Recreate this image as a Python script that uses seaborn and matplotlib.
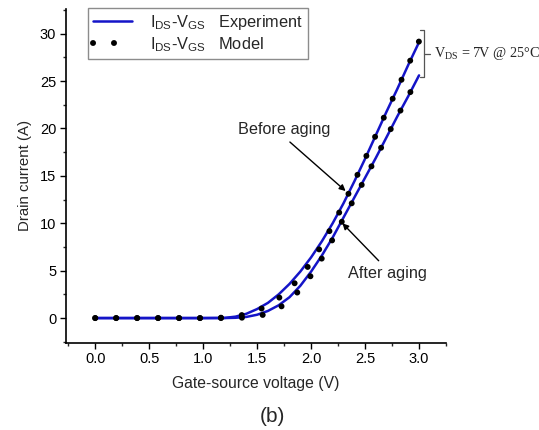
import numpy as np
import pandas as pd
import matplotlib
matplotlib.use("Agg")
import matplotlib.pyplot as plt
from matplotlib.ticker import MultipleLocator
import seaborn as sns

# ---- data ----
vgs = [0.0, 0.2, 0.4, 0.6, 0.8, 1.0, 1.2, 1.3, 1.4, 1.5, 1.6, 1.7, 1.8, 1.9, 2.0,
       2.1, 2.2, 2.3, 2.4, 2.5, 2.6, 2.7, 2.8, 2.9, 3.0]
exp_before = [0, 0, 0, 0, 0, 0, 0.02, 0.15, 0.45, 0.95, 1.6, 2.5, 3.6, 4.9, 6.4,
              8.1, 10.0, 12.1, 14.4, 16.8, 19.3, 21.8, 24.2, 26.7, 29.1]
mod_before = [0, 0, 0, 0, 0, 0, 0.05, 0.2, 0.4, 0.8, 1.3, 2.1, 3.1, 4.3, 5.9,
              7.7, 9.8, 12.0, 14.4, 16.8, 19.3, 21.8, 24.2, 26.7, 29.2]
exp_after = [0, 0, 0, 0, 0, 0, 0, 0.03, 0.12, 0.35, 0.75, 1.35, 2.2, 3.4, 4.9,
             6.6, 8.5, 10.6, 12.7, 14.8, 16.9, 19.1, 21.3, 23.4, 25.6]
mod_after = [0, 0, 0, 0, 0, 0, 0, 0.02, 0.05, 0.2, 0.45, 1.0, 1.9, 3.0, 4.5,
             6.3, 8.3, 10.5, 12.6, 14.7, 16.9, 19.1, 21.3, 23.4, 25.6]

legend_labels = [r"I$_\mathregular{DS}$-V$_\mathregular{GS}$   Experiment",
                 r"I$_\mathregular{DS}$-V$_\mathregular{GS}$   Model"]

sns.set_style("ticks")
plt.rcParams["font.family"] = ["Liberation Sans", "DejaVu Sans"]
plt.rcParams["mathtext.default"] = "regular"

fig = plt.figure(figsize=(5.39, 4.30), dpi=100)
ax = fig.add_axes([0.1225, 0.203, 0.705, 0.776])

blue = "#1414C8"
df = pd.DataFrame({"V": vgs, "eb": exp_before, "mb": mod_before,
                   "ea": exp_after, "ma": mod_after})

sns.lineplot(data=df, x="V", y="eb", ax=ax, color=blue, lw=1.8, label=legend_labels[0])
sns.lineplot(data=df, x="V", y="ea", ax=ax, color=blue, lw=1.8, label="_nolegend_")
dot = (0, (0.01, 3.5))
sns.lineplot(data=df, x="V", y="mb", ax=ax, color="black", lw=4.3,
             label=legend_labels[1])
sns.lineplot(data=df, x="V", y="ma", ax=ax, color="black", lw=4.3, label="_nolegend_")
for ln in ax.lines[2:4]:
    ln.set_linestyle(dot)
    ln.set_dash_capstyle("round")

ax.set_xlim(-0.27, 3.25)
ax.set_ylim(-2.6, 32.6)
ax.xaxis.set_major_locator(MultipleLocator(0.5))
ax.xaxis.set_minor_locator(MultipleLocator(0.25))
ax.yaxis.set_major_locator(MultipleLocator(5))
ax.yaxis.set_minor_locator(MultipleLocator(2.5))
ax.xaxis.set_major_formatter(matplotlib.ticker.FormatStrFormatter("%.1f"))
ax.tick_params(which="major", direction="out", length=4, width=1, labelsize=10.5,
               pad=3, colors="black")
ax.tick_params(which="minor", direction="out", length=2.5, width=1)
sns.despine(ax=ax)
for s in ["left", "bottom"]:
    ax.spines[s].set_linewidth(1.2)
    ax.spines[s].set_color("black")

ax.set_xlabel("Gate-source voltage (V)", fontsize=11.3, labelpad=7)
ax.set_ylabel("Drain current (A)", fontsize=10.8, labelpad=6)

leg = ax.legend(loc="upper left", bbox_to_anchor=(0.058, 1.003), borderaxespad=0,
                fontsize=11.8, handlelength=2.4, handletextpad=1.1, labelspacing=0.2,
                fancybox=False, frameon=True, borderpad=0.3)
leg.get_frame().set_edgecolor("#707070")
leg.get_frame().set_linewidth(1.0)
for h in leg.get_lines():
    if h.get_color() == "black":
        h.set_linestyle(dot)
        h.set_dash_capstyle("round")

ax.annotate("Before aging", xy=(2.32, 13.4), xytext=(1.75, 19.9),
            fontsize=11.7, ha="center", va="center",
            arrowprops=dict(arrowstyle="-|>", color="black", lw=1, shrinkA=2, shrinkB=0,
                            mutation_scale=9, relpos=(0.5, 0.0)))
ax.annotate("After aging", xy=(2.29, 10.0), xytext=(2.71, 4.7),
            fontsize=11.7, ha="center", va="center",
            arrowprops=dict(arrowstyle="-|>", color="black", lw=1, shrinkA=2, shrinkB=0,
                            mutation_scale=9, relpos=(0.45, 1.0)))

# bracket
bx = [3.01, 3.045, 3.045, 3.01]
by = [30.4, 30.4, 25.4, 25.4]
ax.plot(bx, by, color="#555555", lw=0.9, clip_on=False)
ax.plot([3.045, 3.10], [27.9, 27.9], color="#555555", lw=0.9, clip_on=False)
ax.text(3.14, 27.9, r"V$_\mathregular{DS}$ = 7V @ 25°C", fontsize=10.3, va="center",
        ha="left", family=["Liberation Serif", "DejaVu Serif"])

fig.text(0.505, 0.031, "(b)", fontsize=15, ha="center", va="center")

fig.savefig("out.png", dpi=100)
